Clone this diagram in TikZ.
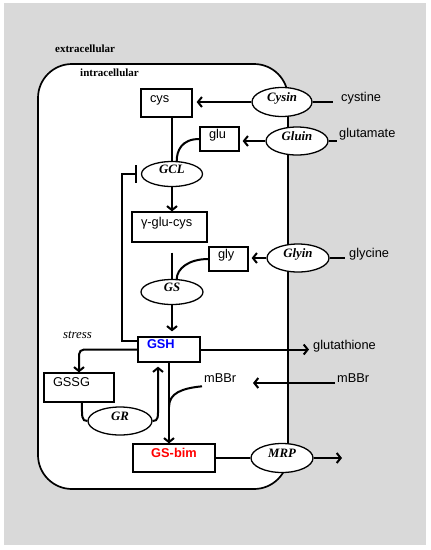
\documentclass[tikz,border=0pt]{standalone}
\usepackage{fontspec}
\setmainfont{Liberation Serif}
\newfontfamily\labfont{Liberation Sans}
\usepackage{tikz}
\usetikzlibrary{arrows.meta,positioning,shapes.geometric,calc}
\usepackage{xcolor}
\definecolor{bggray}{RGB}{217,217,217}
\definecolor{gshblue}{RGB}{0,0,255}
\definecolor{bimred}{RGB}{255,0,0}
\newcommand{\labsize}{\fontsize{12.8}{14}\selectfont}
\tikzset{
  mbox/.style={
    rectangle, draw, fill=white, line width=1.3pt, font=\labfont\labsize,
    inner xsep=9pt, inner ysep=0pt, align=left, text height=6pt, text depth=8pt
  },
  mell/.style={
    ellipse, draw, fill=white, line width=1.3pt, inner sep=0pt,
    font=\labsize\bfseries\itshape, text height=6pt, text depth=7pt
  },
  mtext/.style={anchor=base west, inner ysep=0pt, font=\labfont\labsize},
  marrow/.style={draw, line width=2pt, -{Straight Barb[length=4pt,width=10pt]}},
  mline/.style={draw, line width=2pt},
  minhib/.style={draw, line width=2pt, -{Bar[width=18pt]}}
}

\begin{document}
\begin{tikzpicture}[x=1pt, y=-1pt]
        \useasboundingbox (0,0) rectangle (431,550);
        \fill[bggray] (4,3) rectangle (426,545);
        % cell
        \draw[line width=1.7pt, fill=white, rounded corners=34pt] (38,64) rectangle (288,489);
        \node[mtext, inner sep=0pt, font=\fontsize{11}{13}\selectfont\bfseries] (extra) at (55,52.5) {extracellular};
        \node[mtext, inner sep=0pt, font=\fontsize{11}{13}\selectfont\bfseries] (intra) at (80,76.5) {intracellular};
        \node[mtext, inner sep=0pt, font=\labsize\itshape] (stress) at (63,338) {stress};

        \node[mbox, text width=33pt, minimum height=28pt]  (cys)     at (166.5,103) {cys};
        \node[mbox, text width=21pt, minimum height=24pt]  (glu)     at (219.5,139) {glu};
        \node[mbox, text width=57pt, minimum height=30pt]  (gglucys) at (169.5,227) {γ-glu-cys};
        \node[mbox, text width=21pt, minimum height=24pt]  (gly)     at (228.5,259) {gly};
        \node[mbox, text width=44pt, minimum height=25pt,
              font=\labfont\labsize\bfseries, text=gshblue] (gsh)   at (169,349.5) {GSH};
        \node[mbox, text width=52pt, minimum height=29pt]  (gssg)    at (79,387.5) {GSSG};
        \node[mbox, text width=64pt, minimum height=28pt, align=center,
              font=\labfont\labsize\bfseries, text=bimred] (gsbim)  at (174,458) {GS-bim};

        \node[mell, minimum width=60pt, minimum height=29pt] (cysin) at (282,102) {Cysin};
        \node[mell, minimum width=62pt, minimum height=28pt] (gluin) at (297,141) {Gluin};
        \node[mell, minimum width=61pt, minimum height=25pt] (gcl)   at (172,174) {GCL};
        \node[mell, minimum width=62pt, minimum height=28pt] (glyin) at (298,258) {Glyin};
        \node[mell, minimum width=62pt, minimum height=25pt] (gs)    at (172,292) {GS};
        \node[mell, minimum width=64pt, minimum height=28pt] (gr)    at (120,421) {GR};
        \node[mell, minimum width=62pt, minimum height=29pt] (mrp)   at (282,458) {MRP};

        \node[mtext, inner xsep=8pt] (cystine)     at (333,101.5) {cystine};
        \node[mtext, inner xsep=2pt] (glutamate)   at (337,137.5) {glutamate};
        \node[mtext, inner xsep=4pt] (glycine)     at (345,257.3) {glycine};
        \node[mtext, inner xsep=3pt] (glutathione) at (310,349.3) {glutathione};
        \node[mtext, inner xsep=2pt] (mbbrout)     at (335,382.7) {mBBr};
        \node[mtext, inner xsep=2pt] (mbbrin)      at (202,382.7) {mBBr};

        \coordinate (mtip)    at (253,383);
        \coordinate (mrpout)  at (342,458);
        \coordinate (grup)    at (158,405);
        \coordinate (bimjoin) at (169,407);

        % uptake
        \draw[marrow, shorten >=4pt] (cysin.west) -- (cysin.west -| cys.east);
        \draw[mline] (cysin.east) -- (cysin.east -| cystine.west);
        \draw[marrow, shorten >=3pt] (gluin.west) -- (gluin.west -| glu.east);
        \draw[mline] (gluin.east) -- (gluin.east -| glutamate.west);
        \draw[marrow, shorten >=3pt] (glyin.west) -- (glyin.west -| gly.east);
        \draw[mline] (glyin.east) -- (glyin.east -| glycine.west);
        % synthesis
        \draw[mline] (cys.south -| gcl.north) -- (gcl.north);
        \draw[mline] (glu.west) .. controls +(-18,0) and +(0,-10) .. (gcl.70);
        \draw[marrow] (gcl.south) -- (gcl.south |- gglucys.north);
        \draw[mline] ($(gglucys.south -| gs.north)+(0,10)$) -- (gs.north);
        \draw[mline] (gly.west) .. controls +(-20,0) and +(0,-10) .. (gs.70);
        \draw[marrow, shorten >=5pt] (gs.south) -- (gs.south |- gsh.north);
        \draw[minhib, shorten >=4pt] ($(gsh.west)+(0,-9)$) -- ++(-15,0) |- (gcl.west);
        % GSH fate
        \draw[marrow, shorten >=1pt] (gsh.east) -- (gsh.east -| glutathione.west);
        \draw[marrow, rounded corners=5pt] (gsh.west) -| (gssg.north);
        \draw[mline] ($(gssg.south)+(3,0)$) .. controls +(0,14) and +(-6,0) .. (gr.west);
        \draw[marrow, shorten >=4pt] (gr.east) .. controls +(6,0) and +(0,12) .. (grup) -- (grup |- gsh.south);
        \draw[marrow] (gsh.south) -- (gsh.south |- gsbim.north);
        \draw[mline] ($(mbbrin.west)+(0,8)$) .. controls +(-20,2) and +(0,-14) .. (bimjoin);
        \draw[marrow] (mbbrout.west |- mtip) -- (mtip);
        \draw[mline] (gsbim.east) -- (mrp.west);
        \draw[marrow] (mrp.east) -- (mrpout);
      \end{tikzpicture}
\end{document}
